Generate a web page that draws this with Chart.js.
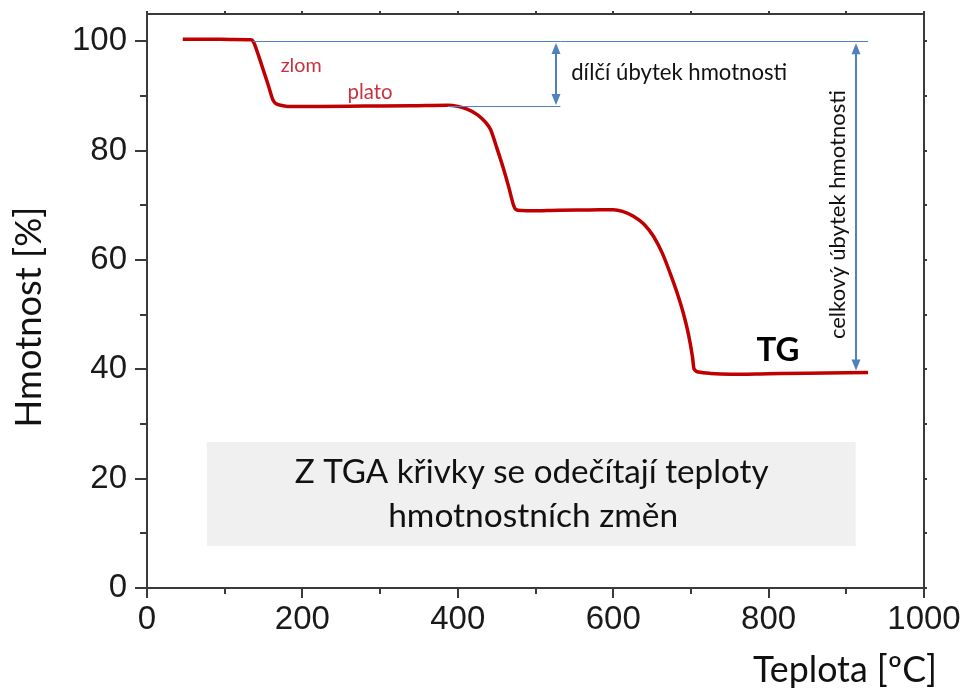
<!DOCTYPE html>
<html><head><meta charset="utf-8">
<script src="https://cdn.jsdelivr.net/npm/chart.js@4.4.1/dist/chart.umd.min.js"></script>
<style>html,body{margin:0;padding:0;background:#fff}canvas{display:block}</style>
</head><body>
<canvas id="c" width="968" height="691"></canvas>
<script>
// ---- data ----
const temperatureC = [46, 80, 110, 134, 137, 144, 150, 156, 162, 166, 172, 181, 220, 280, 340, 387, 400, 412, 425, 435, 442, 450, 459, 466, 472, 475, 482, 494, 530, 570, 600, 612, 626, 640, 652, 663, 673, 682, 690, 697, 702, 704, 710, 725, 751, 800, 850, 928];
const massPercent  = [100.4, 100.4, 100.35, 100.3, 99.9, 97.2, 94.6, 92.0, 89.3, 88.6, 88.3, 88.1, 88.1, 88.15, 88.2, 88.3, 88.1, 87.6, 86.6, 85.3, 83.9, 80.6, 76.6, 73.1, 69.9, 69.2, 69.05, 69.0, 69.1, 69.15, 69.2, 68.9, 68.0, 66.5, 64.3, 61.3, 57.7, 54.1, 50.4, 46.3, 42.3, 40.1, 39.5, 39.25, 39.1, 39.2, 39.3, 39.4];
const xTickValues = [0, 200, 400, 600, 800, 1000];
const xMinorTickValues = [100, 300, 500, 700, 900];
const yTickValues = [0, 20, 40, 60, 80, 100];
const yMinorTickValues = [10, 30, 50, 70, 90];
const partialLossLevels = [100, 88.1];   // start level, first plateau
const totalLossLevels = [100, 39.4];     // start level, final plateau
const xTitle = 'Teplota [ºC]';
const yTitle = 'Hmotnost [%]';

// ---- annotation layout (data units) ----
const annot = {
  topLine: {x0: 136, x1: 928},
  plateauLine: {x0: 387, x1: 532},
  partialArrowX: 526,
  totalArrowX: 913,
  zlom: {text: 'zlom', x: 172, y: 95.6, w: 41},
  plato: {text: 'plato', x: 258, y: 90.7, w: 45},
  partial: {text: 'dílčí úbytek hmotnosti', x: 546, y: 94.3, w: 216},
  total: {text: 'celkový úbytek hmotnosti', x: 889, y: 68.3, w: 249},
  tg: {text: 'TG', x: 812, y: 43.4, w: 43},
  box: {x0: 77, x1: 912, y0: 7.7, y1: 26.7},
  boxLines: [{text: 'Z TGA křivky se odečítají teploty', x: 495, y: 21.2, w: 474},
             {text: 'hmotnostních změn', x: 497, y: 13.1, w: 290}]
};

const SANS = 'Lato, "Open Sans", sans-serif';
const BLUE = '#4f81bd';
const RED_TEXT = '#c8323c';
const AXIS = '#3a3a3a';

function fitSize(ctx, text, weight, family, width) {
  ctx.font = `${weight} 100px ${family}`;
  return 100 * width / ctx.measureText(text).width;
}
function drawFit(ctx, t, weight, color, align, px, py, rot) {
  const size = fitSize(ctx, t.text, weight, SANS, t.w);
  ctx.save();
  ctx.font = `${weight} ${size}px ${SANS}`;
  ctx.fillStyle = color;
  ctx.textAlign = align;
  ctx.textBaseline = 'middle';
  ctx.translate(px, py);
  if (rot) ctx.rotate(rot);
  ctx.fillText(t.text, 0, 0);
  ctx.restore();
}
function arrowHead(ctx, x, y, dir) { // dir: -1 up, +1 down
  ctx.beginPath();
  ctx.moveTo(x, y);
  ctx.lineTo(x - 4.5, y - dir * 11);
  ctx.lineTo(x + 4.5, y - dir * 11);
  ctx.closePath();
  ctx.fill();
}
function noPad(s) { s.paddingTop = 0; s.paddingBottom = 0; s.paddingLeft = 0; s.paddingRight = 0; }

const decor = {
  id: 'decor',
  beforeDatasetsDraw(chart) {
    const {ctx, scales: {x, y}} = chart;
    const b = annot.box;
    ctx.save();
    ctx.fillStyle = '#f0f0f0';
    const X0 = x.getPixelForValue(b.x0), X1 = x.getPixelForValue(b.x1);
    const Y0 = y.getPixelForValue(b.y1), Y1 = y.getPixelForValue(b.y0);
    ctx.fillRect(X0, Y0, X1 - X0, Y1 - Y0);
    ctx.restore();
    annot.boxLines.forEach(t => drawFit(ctx, t, 400, '#111', 'center', x.getPixelForValue(t.x), y.getPixelForValue(t.y)));
  },
  afterDatasetsDraw(chart) {
    const {ctx, chartArea: ca, scales: {x, y}} = chart;
    ctx.save();
    // blue reference lines
    ctx.strokeStyle = BLUE; ctx.fillStyle = BLUE; ctx.lineWidth = 1;
    const yTop = Math.round(y.getPixelForValue(partialLossLevels[0])) + 0.5;
    const yPl = Math.round(y.getPixelForValue(partialLossLevels[1])) + 0.5;
    ctx.beginPath();
    ctx.moveTo(x.getPixelForValue(annot.topLine.x0), yTop); ctx.lineTo(x.getPixelForValue(annot.topLine.x1), yTop);
    ctx.moveTo(x.getPixelForValue(annot.plateauLine.x0), yPl); ctx.lineTo(x.getPixelForValue(annot.plateauLine.x1), yPl);
    ctx.stroke();
    // arrows
    ctx.lineWidth = 2;
    const ax1 = Math.round(x.getPixelForValue(annot.partialArrowX));
    const ax2 = Math.round(x.getPixelForValue(annot.totalArrowX));
    const yA = y.getPixelForValue(totalLossLevels[0]) + 2, yB = y.getPixelForValue(totalLossLevels[1]) - 2;
    ctx.beginPath();
    ctx.moveTo(ax1, yTop + 8); ctx.lineTo(ax1, yPl - 8);
    ctx.moveTo(ax2, yA + 8); ctx.lineTo(ax2, yB - 8);
    ctx.stroke();
    arrowHead(ctx, ax1, yTop + 1.5, -1); arrowHead(ctx, ax1, yPl - 1.5, 1);
    arrowHead(ctx, ax2, yA, -1); arrowHead(ctx, ax2, yB, 1);
    ctx.restore();

    // texts
    drawFit(ctx, annot.zlom, 400, RED_TEXT, 'left', x.getPixelForValue(annot.zlom.x), y.getPixelForValue(annot.zlom.y));
    drawFit(ctx, annot.plato, 400, RED_TEXT, 'left', x.getPixelForValue(annot.plato.x), y.getPixelForValue(annot.plato.y));
    drawFit(ctx, annot.partial, 400, '#111', 'left', x.getPixelForValue(annot.partial.x), y.getPixelForValue(annot.partial.y));
    drawFit(ctx, annot.total, 400, '#111', 'center', x.getPixelForValue(annot.total.x), y.getPixelForValue(annot.total.y), -Math.PI / 2);
    drawFit(ctx, annot.tg, 700, '#000', 'center', x.getPixelForValue(annot.tg.x), y.getPixelForValue(annot.tg.y));

    // frame and ticks
    ctx.save();
    ctx.strokeStyle = AXIS; ctx.lineWidth = 2;
    ctx.strokeRect(ca.left, ca.top, ca.right - ca.left, ca.bottom - ca.top);
    ctx.beginPath();
    xTickValues.forEach(v => { const p = Math.round(x.getPixelForValue(v)); ctx.moveTo(p, ca.bottom); ctx.lineTo(p, ca.bottom + 10); ctx.moveTo(p, ca.top); ctx.lineTo(p, ca.top - 3); });
    xMinorTickValues.forEach(v => { const p = Math.round(x.getPixelForValue(v)); ctx.moveTo(p, ca.bottom); ctx.lineTo(p, ca.bottom + 6); ctx.moveTo(p, ca.top); ctx.lineTo(p, ca.top - 3); });
    yTickValues.forEach(v => { const p = Math.round(y.getPixelForValue(v)); ctx.moveTo(ca.left, p); ctx.lineTo(ca.left - 12, p); ctx.moveTo(ca.right, p); ctx.lineTo(ca.right + 3, p); });
    yMinorTickValues.forEach(v => { const p = Math.round(y.getPixelForValue(v)); ctx.moveTo(ca.left, p); ctx.lineTo(ca.left - 7, p); ctx.moveTo(ca.right, p); ctx.lineTo(ca.right + 3, p); });
    ctx.stroke();
    ctx.restore();

    // axis titles
    drawFit(ctx, {text: xTitle, w: 184}, 400, '#111', 'center', 845, 670);
    drawFit(ctx, {text: yTitle, w: 221}, 400, '#111', 'center', 29, 317, -Math.PI / 2);
  }
};

new Chart(document.getElementById('c'), {
  type: 'scatter',
  data: {
    datasets: [{
      data: temperatureC.map((t, i) => ({x: t, y: massPercent[i]})),
      showLine: true,
      borderColor: '#c00000',
      borderWidth: 3.5,
      pointRadius: 0,
      cubicInterpolationMode: 'monotone',
      fill: false
    }]
  },
  options: {
    responsive: false,
    animation: false,
    layout: {padding: {top: 14, right: 44, left: 0, bottom: 0}},
    plugins: {legend: {display: false}, tooltip: {enabled: false}},
    scales: {
      x: {
        type: 'linear', min: 0, max: 1000,
        afterFit: s => { s.height = 103; noPad(s); },
        afterBuildTicks: s => { s.ticks = xTickValues.map(v => ({value: v})); },
        grid: {display: false, drawTicks: false},
        border: {display: false},
        ticks: {color: '#1a1a1a', padding: 12, maxRotation: 0, autoSkip: false,
                callback: v => String(v),
                font: {family: '"Liberation Sans", Arial, sans-serif', size: 33}}
      },
      y: {
        type: 'linear', min: 0, max: 105,
        afterFit: s => { s.width = 147; noPad(s); },
        afterBuildTicks: s => { s.ticks = yTickValues.map(v => ({value: v})); },
        grid: {display: false, drawTicks: false},
        border: {display: false},
        ticks: {color: '#1a1a1a', padding: 20, autoSkip: false,
                callback: v => String(v),
                font: {family: '"Liberation Sans", Arial, sans-serif', size: 33}}
      }
    }
  },
  plugins: [decor]
});
</script>
</body></html>
